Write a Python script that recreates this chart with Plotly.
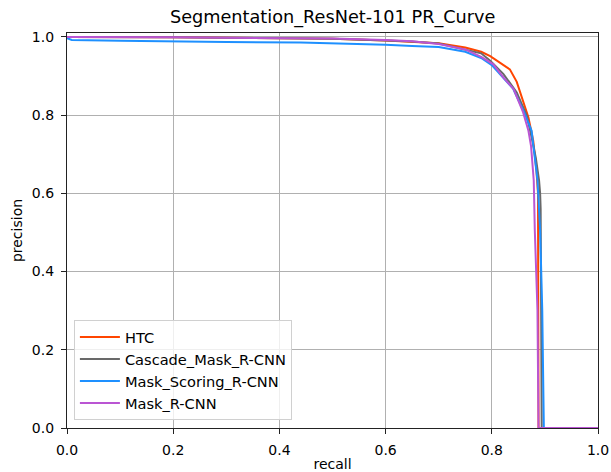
import plotly.graph_objects as go

# ---- data ----
htc_recall = [0.0, 0.1, 0.2, 0.3, 0.4, 0.5, 0.6, 0.65, 0.7, 0.75, 0.78, 0.797, 0.819, 0.834, 0.847, 0.859, 0.869, 0.878, 0.884, 0.887, 0.888, 1.0]
htc_prec = [1.0, 1.0, 0.999, 0.998, 0.997, 0.995, 0.991, 0.988, 0.984, 0.973, 0.962, 0.951, 0.930, 0.917, 0.885, 0.837, 0.794, 0.735, 0.66, 0.60, 0.0, 0.0]

cascade_recall = [0.0, 0.1, 0.2, 0.3, 0.4, 0.5, 0.6, 0.65, 0.7, 0.75, 0.78, 0.797, 0.822, 0.847, 0.866, 0.875, 0.883, 0.889, 0.891, 0.892, 0.894, 1.0]
cascade_prec = [1.0, 1.0, 0.999, 0.998, 0.997, 0.995, 0.991, 0.988, 0.983, 0.968, 0.958, 0.939, 0.905, 0.858, 0.798, 0.743, 0.69, 0.633, 0.60, 0.56, 0.0, 0.0]

msrcnn_recall = [0.0, 0.009, 0.1, 0.2, 0.3, 0.44, 0.5, 0.6, 0.65, 0.7, 0.75, 0.78, 0.8, 0.82, 0.84, 0.86, 0.875, 0.886, 0.891, 0.895, 0.898, 1.0]
msrcnn_prec = [0.997, 0.992, 0.990, 0.988, 0.987, 0.986, 0.984, 0.980, 0.977, 0.974, 0.962, 0.946, 0.928, 0.898, 0.868, 0.810, 0.760, 0.633, 0.505, 0.301, 0.0, 0.0]

mrcnn_recall = [0.0, 0.1, 0.2, 0.3, 0.44, 0.5, 0.6, 0.65, 0.7, 0.75, 0.78, 0.803, 0.822, 0.841, 0.859, 0.869, 0.874, 0.879, 0.881, 0.886, 0.888, 1.0]
mrcnn_prec = [1.0, 1.0, 0.999, 0.998, 0.997, 0.996, 0.992, 0.989, 0.982, 0.968, 0.949, 0.930, 0.896, 0.867, 0.807, 0.760, 0.72, 0.633, 0.505, 0.301, 0.0, 0.0]

series_names = ["HTC", "Cascade_Mask_R-CNN", "Mask_Scoring_R-CNN", "Mask_R-CNN"]
series_x = [htc_recall, cascade_recall, msrcnn_recall, mrcnn_recall]
series_y = [htc_prec, cascade_prec, msrcnn_prec, mrcnn_prec]
colors = ["#FF4500", "#696969", "#1E90FF", "#BA55D3"]

fig = go.Figure()
for name, xs, ys, c in zip(series_names, series_x, series_y, colors):
    fig.add_trace(go.Scatter(x=xs, y=ys, mode="lines", name=name,
                             line=dict(color=c, width=2)))

font_family = "DejaVu Sans"
axis_common = dict(showgrid=True, gridcolor="#b0b0b0", gridwidth=1,
                   showline=True, linecolor="#222222", linewidth=1.2, mirror=True,
                   ticks="outside", ticklen=5, tickcolor="#222222", tickwidth=1,
                   ticklabelstandoff=4,
                   zeroline=False, tickfont=dict(size=14, color="black"),
                   tickformat=".1f", dtick=0.2, automargin=False)

fig.update_layout(
    width=611, height=472,
    margin=dict(l=67, r=13, t=33, b=44),
    paper_bgcolor="white", plot_bgcolor="white",
    font=dict(family=font_family, color="black"),
    title=dict(text="Segmentation_ResNet-101 PR_Curve", x=0.5445, xanchor="center",
               yref="container", y=0.964, yanchor="middle", automargin=False,
               font=dict(size=17.7, color="black")),
    xaxis=dict(range=[0, 1], title=dict(text="recall", font=dict(size=14), standoff=5), **axis_common),
    yaxis=dict(range=[0, 1.01], title=dict(text="precision", font=dict(size=14), standoff=5), **axis_common),
    legend=dict(x=0.013, y=0.02, xanchor="left", yanchor="bottom",
                bgcolor="rgba(255,255,255,0.8)", bordercolor="#d0d0d0", borderwidth=1,
                font=dict(size=14.6, color="black"), tracegroupgap=0, itemwidth=40),
    showlegend=True,
    hovermode=False,
)

fig.write_html("out.html", config={"displayModeBar": False},
               post_script="document.body.style.margin='0';document.body.style.overflow='hidden';")
